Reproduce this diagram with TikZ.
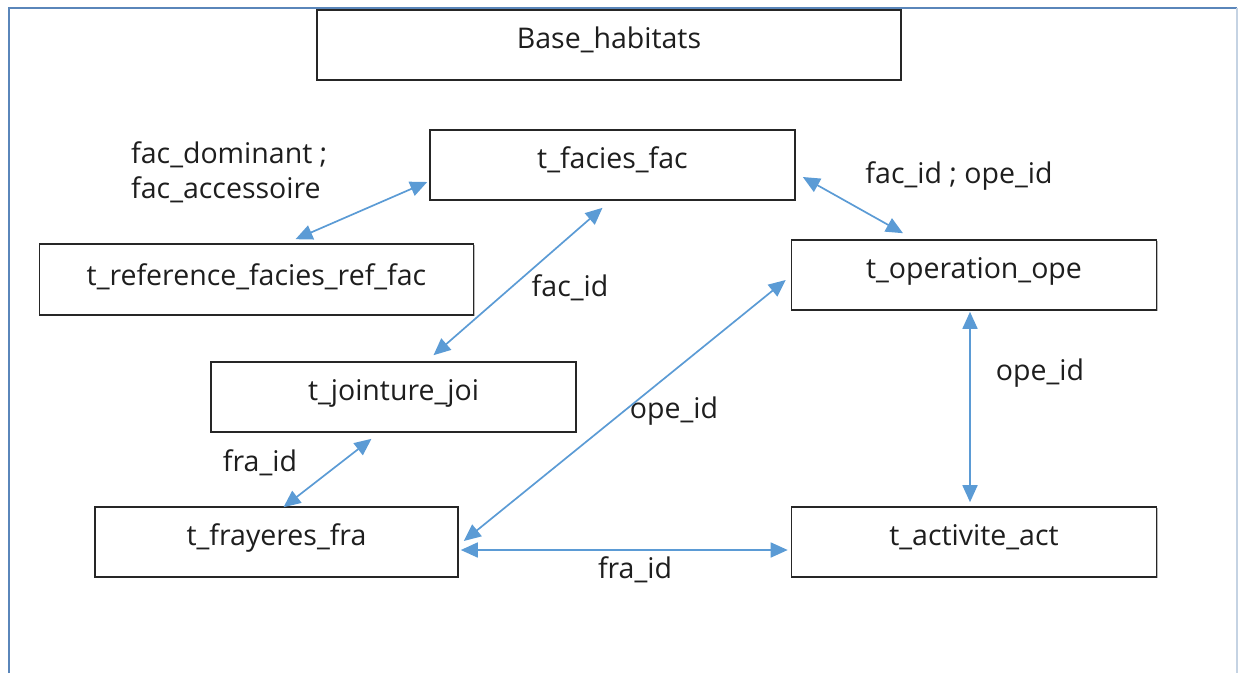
\documentclass[tikz,border=0pt]{standalone}
\usepackage{fontspec}
\setmainfont{Open Sans}
\usetikzlibrary{arrows.meta,calc,shadows}
\definecolor{arrowblue}{HTML}{5B9BD5}
\definecolor{framebl}{HTML}{5A86BA}
\definecolor{framelight}{HTML}{C5D3E3}
\definecolor{boxline}{HTML}{262626}
\definecolor{txt}{HTML}{1E1E1E}
\begin{document}
\begin{tikzpicture}[x=1pt,y=-1pt,
  font=\fontsize{28.5}{35}\selectfont, text=txt,
  box/.style={draw=boxline, line width=1.6pt, fill=white, minimum height=70pt,
    inner sep=0pt, text height=19.5pt, text depth=12.5pt,
    drop shadow={shadow xshift=1.2pt, shadow yshift=-1.2pt, fill=black!45, opacity=0.6}},
  link/.style={draw=arrowblue, line width=1.7pt,
    {Triangle[length=17pt,width=15pt]}-{Triangle[length=17pt,width=15pt]}},
  lbl/.style={inner sep=0pt}]
\useasboundingbox (0,0) rectangle (1238,673);
% outer frame
\draw[framebl, line width=2pt] (9,673) -- (9,8) -- (1237,8);
\draw[framelight, line width=1.5pt] (1237,8) -- (1237,673);
% boxes
\node[box, minimum width=584pt] (base) at (609,45) {Base\_habitats};
\node[box, minimum width=365pt] (fac) at (612.5,165) {t\_facies\_fac};
\node[box, minimum width=434pt, minimum height=71pt, text height=21.5pt, text depth=10.5pt] (ref) at (256.5,279.5) {t\_reference\_facies\_ref\_fac};
\node[box, minimum width=365pt] (ope) at (974,275) {t\_operation\_ope};
\node[box, minimum width=365pt] (joi) at (393.5,397) {t\_jointure\_joi};
\node[box, minimum width=363pt] (fra) at (276.5,542) {t\_frayeres\_fra};
\node[box, minimum width=365pt] (act) at (974,542) {t\_activite\_act};
% labels
\node[lbl, anchor=west, align=left] (lfac) at (131,172.5) {fac\_dominant ;\\fac\_accessoire};
\node[lbl] (lfacope) at (959,176) {fac\_id ; ope\_id};
\node[lbl] (lfacid) at (570,288) {fac\_id};
\node[lbl] (lopeR) at (1040,373) {ope\_id};
\node[lbl] (lopeM) at (674,411) {ope\_id};
\node[lbl] (lfraL) at (260,463) {fra\_id};
\node[lbl] (lfraB) at (635,570) {fra\_id};
% connectors
\draw[link] ($(fac.west)+(-2,17)$) -- ($(ref.north)+(39,-4)$);
\draw[link] ($(fac.south)+(-10,7)$) -- ($(joi.north)+(40,-6)$);
\draw[link] ($(fac.east)+(7,12)$) -- ($(ope.north)+(-71,-6)$);
\draw[link] ($(ope.west)+(-5,5)$) -- ($(fra.east)+(5,-1)$);
\draw[link] ($(ope.south)+(-4,1)$) -- ($(act.north)+(-4,-4)$);
\draw[link] ($(joi.south)+(-22,6)$) -- ($(fra.north)+(7,1)$);
\draw[link] ($(fra.east)+(2,8)$) -- ($(act.west)+(-3,8)$);
\end{tikzpicture}
\end{document}
